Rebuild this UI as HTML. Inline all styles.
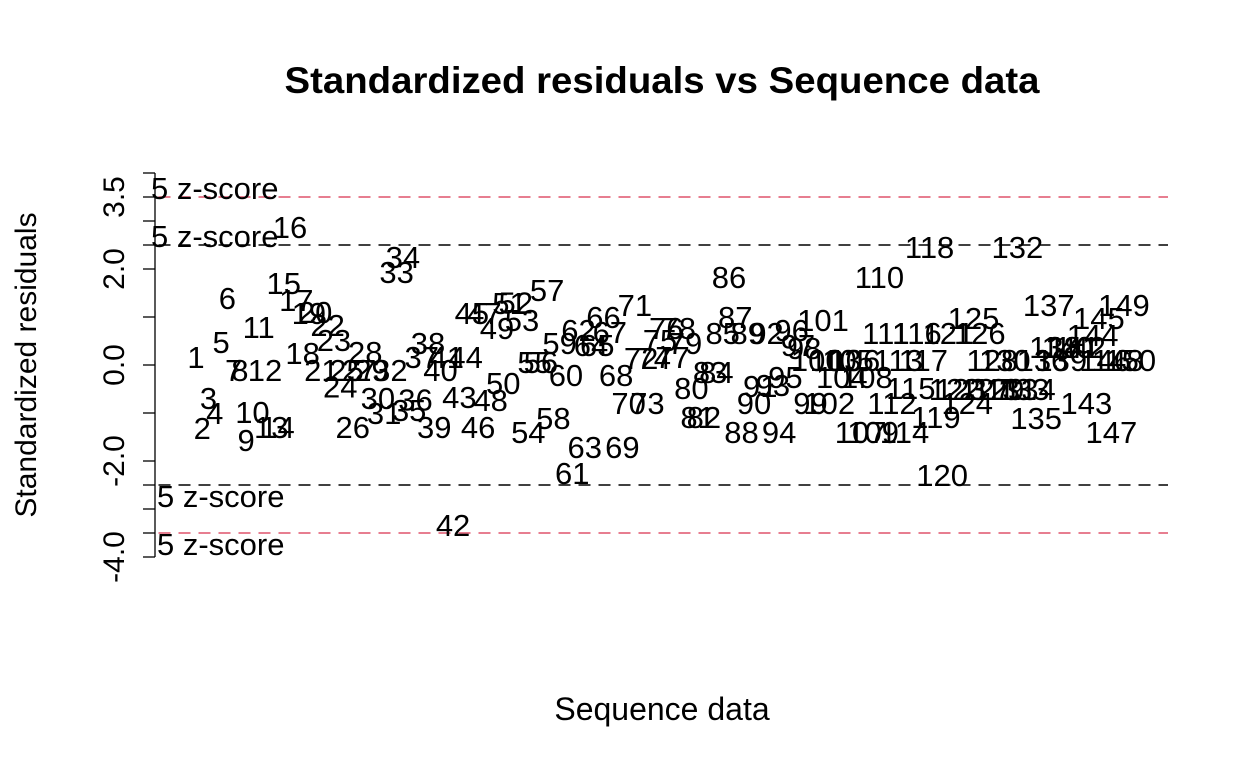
<!DOCTYPE html>
<html><head><meta charset="utf-8"><style>
body{margin:0;background:#fff;}
svg{display:block;font-family:"Liberation Sans",Arial,sans-serif;}
</style></head><body>
<svg id="chart" width="1248" height="768" viewBox="0 0 1248 768" xmlns="http://www.w3.org/2000/svg">
<text x="662" y="93" font-size="37" font-weight="bold" text-anchor="middle" textLength="755" lengthAdjust="spacingAndGlyphs">Standardized residuals vs Sequence data</text>
<text x="662" y="720" font-size="32" text-anchor="middle">Sequence data</text>
<text transform="translate(36,365) rotate(-90)" font-size="30" text-anchor="middle">Standardized residuals</text>
<g id="axis"></g>
<g id="lines"></g>
<g id="pts"></g>
</svg>
<script>
const tickValues=[-4,-3.5,-3,-2.5,-2,-1,0,1,2,2.5,3,3.5,4];
const tickLabels=["-4.0","-2.0","0.0","2.0","3.5"];
const tickLabelValues=[-4,-2,0,2,3.5];
const thresholds=[3.5,2.5,-2.5,-3.5];
const thresholdColors=["#df536b","#000","#000","#df536b"];
const thresholdText=["5 z-score","5 z-score","5 z-score","5 z-score"];
const residuals=[0.17,-1.31,-0.69,-1.0,0.48,1.40,-0.1,-0.1,-1.56,-0.98,
0.79,-0.1,-1.29,-1.29,1.71,2.88,1.35,0.25,1.08,1.1,
-0.1,0.83,0.52,-0.45,-0.1,-1.29,-0.1,0.27,-0.1,-0.69,
-1.0,-0.1,1.94,2.25,-0.94,-0.72,0.17,0.46,-1.29,-0.1,
0.17,-3.33,-0.67,0.17,1.08,-1.29,1.08,-0.73,0.77,-0.38,
1.29,1.3,0.94,-1.40,0.06,0.06,1.56,-1.1,0.46,-0.21,
-2.25,0.73,-1.71,0.42,0.42,1.0,0.69,-0.21,-1.71,-0.79,
1.25,0.15,-0.79,0.15,0.52,0.77,0.17,0.77,0.46,-0.48,
-1.08,-1.08,-0.15,-0.15,0.67,1.83,1.0,-1.40,0.67,-0.79,
-0.44,0.67,-0.42,-1.40,-0.25,0.73,0.42,0.35,-0.79,0.10,
0.94,-0.79,0.1,-0.25,0.1,0.1,-1.40,-0.25,-1.40,1.83,
0.67,-0.79,0.1,-1.40,-0.48,0.67,0.1,2.46,-1.08,-2.29,
0.67,-0.5,-0.5,-0.79,0.98,0.67,-0.5,0.1,-0.5,0.1,
-0.5,2.46,-0.5,-0.5,-1.1,0.1,1.25,0.38,0.1,0.38,
0.38,0.38,-0.79,0.63,0.98,0.1,-1.40,0.1,1.25,0.1];
const NS="http://www.w3.org/2000/svg";
function xs(i){return 196+(i-1)*6.27;}
function ys(v){return 365-v*48;}
const X0=158.5,X1=1168;
function mk(tag,at,parent){const e=document.createElementNS(NS,tag);for(const k in at)e.setAttribute(k,at[k]);parent.appendChild(e);return e;}
const ax=document.getElementById('axis');
const al=mk('line',{x1:155,x2:155,y1:ys(4),y2:ys(-4),stroke:'#000','stroke-width':1.3},ax);


tickValues.forEach(v=>{
 const t=mk('line',{x1:143,x2:155,y1:ys(v),y2:ys(v),stroke:'#000','stroke-width':1.3},ax);
 
 
});
tickLabelValues.forEach((v,i)=>{
 const t=mk('text',{transform:`translate(124,${ys(v)}) rotate(-90)`,'font-size':30,'text-anchor':'middle'},ax);
 t.textContent=tickLabels[i];
 
 
});
const lg=document.getElementById('lines');
thresholds.forEach((v,i)=>{
 const l=mk('line',{x1:X0,x2:X1,y1:ys(v),y2:ys(v),stroke:thresholdColors[i],'stroke-width':1.5,'stroke-dasharray':'12 8'},lg);
 
 
 const up=v>0;
 const t=mk('text',{x:up?151:157,y:up?ys(v)+2:ys(v)+22,'font-size':31},lg);
 t.textContent=thresholdText[i];
 
 
});
const pg=document.getElementById('pts');
residuals.forEach((v,k)=>{
 const i=k+1;
 const t=mk('text',{x:xs(i),y:ys(v)+11,'font-size':31,'text-anchor':'middle'},pg);
 t.textContent=String(i);
 
 
});
</script>
</body></html>
